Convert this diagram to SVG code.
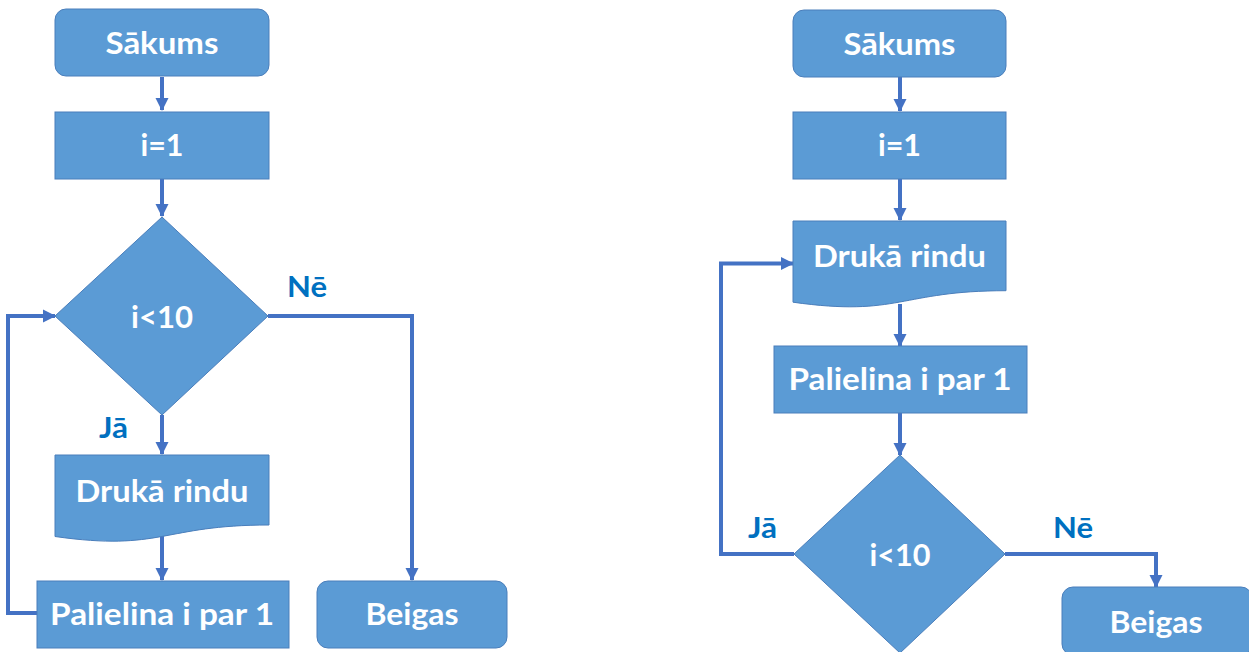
<svg xmlns="http://www.w3.org/2000/svg" width="1249" height="652" viewBox="0 0 1249 652">
<style>
.n{fill:#5B9BD5;stroke:#4A7EBB;stroke-width:1}
.t{font-family:Lato,"Open Sans","Liberation Sans",sans-serif;font-weight:bold;font-size:30px;fill:#FFFFFF;text-anchor:middle}
.l{font-family:Lato,"Open Sans","Liberation Sans",sans-serif;font-weight:bold;font-size:28px;fill:#0070C0}
.c{fill:none;stroke:#4472C4;stroke-width:4}
</style>
<defs>
<marker id="a" markerUnits="userSpaceOnUse" markerWidth="14" markerHeight="14" refX="12" refY="7" orient="auto">
<path d="M0,0.5 L13,7 L0,13.5 Z" fill="#4472C4"/>
</marker>
</defs>
<g id="connectors">
<path class="c" d="M162,77 V110" marker-end="url(#a)"/>
<path class="c" d="M162,179 V216" marker-end="url(#a)"/>
<path class="c" d="M162,415 V454" marker-end="url(#a)"/>
<path class="c" d="M162,536 V580" marker-end="url(#a)"/>
<path class="c" d="M268,316 H412 V580" marker-end="url(#a)"/>
<path class="c" d="M37,613 H8 V316 H55" marker-end="url(#a)"/>
<path class="c" d="M900,77 V111" marker-end="url(#a)"/>
<path class="c" d="M900,179 V220" marker-end="url(#a)"/>
<path class="c" d="M900,304 V346" marker-end="url(#a)"/>
<path class="c" d="M900,413 V455" marker-end="url(#a)"/>
<path class="c" d="M1005,554 H1156 V587" marker-end="url(#a)"/>
<path class="c" d="M794,554 H721 V263.5 H793" marker-end="url(#a)"/>
</g>
<g id="l-start"><rect class="n" x="55" y="9" width="214" height="67" rx="11"/><text class="t" x="162" y="54" textLength="113" lengthAdjust="spacingAndGlyphs">Sākums</text></g>
<g id="l-init"><rect class="n" x="55" y="112" width="214" height="67"/><text class="t" x="162" y="156" textLength="43" lengthAdjust="spacingAndGlyphs">i=1</text></g>
<g id="l-cond"><path class="n" d="M162,217 L268,316 L162,415 L55,316 Z"/><text class="t" x="162" y="328" textLength="62" lengthAdjust="spacingAndGlyphs">i&lt;10</text></g>
<g id="l-print"><path class="n" d="M55,455 H269 V525 C162,525 162,551.7 55,536.5 Z"/><text class="t" x="162" y="502" textLength="173" lengthAdjust="spacingAndGlyphs">Drukā rindu</text></g>
<g id="l-inc"><rect class="n" x="37" y="581" width="252" height="67"/><text class="t" x="162" y="625" textLength="224" lengthAdjust="spacingAndGlyphs">Palielina i par 1</text></g>
<g id="l-end"><rect class="n" x="317" y="581" width="190" height="67" rx="11"/><text class="t" x="412" y="625" textLength="93" lengthAdjust="spacingAndGlyphs">Beigas</text></g>
<text class="l" x="287" y="297" textLength="40" lengthAdjust="spacingAndGlyphs">Nē</text>
<text class="l" x="99" y="438" textLength="29" lengthAdjust="spacingAndGlyphs">Jā</text>
<g id="r-start"><rect class="n" x="793" y="10" width="213" height="67" rx="11"/><text class="t" x="899.5" y="55" textLength="112" lengthAdjust="spacingAndGlyphs">Sākums</text></g>
<g id="r-init"><rect class="n" x="793" y="112" width="213" height="67"/><text class="t" x="899.5" y="156" textLength="43" lengthAdjust="spacingAndGlyphs">i=1</text></g>
<g id="r-print"><path class="n" d="M793,221 H1006 V290.7 C899.5,290.7 899.5,317.2 793,302.2 Z"/><text class="t" x="899.5" y="267" textLength="173" lengthAdjust="spacingAndGlyphs">Drukā rindu</text></g>
<g id="r-inc"><rect class="n" x="774" y="346" width="253" height="67"/><text class="t" x="900" y="390" textLength="223" lengthAdjust="spacingAndGlyphs">Palielina i par 1</text></g>
<g id="r-cond"><path class="n" d="M900,455 L1005,554 L900,653 L794,554 Z"/><text class="t" x="900" y="566" textLength="61" lengthAdjust="spacingAndGlyphs">i&lt;10</text></g>
<g id="r-end"><rect class="n" x="1062" y="587" width="190" height="68" rx="11"/><text class="t" x="1156" y="633" textLength="93" lengthAdjust="spacingAndGlyphs">Beigas</text></g>
<text class="l" x="748" y="538" textLength="29" lengthAdjust="spacingAndGlyphs">Jā</text>
<text class="l" x="1053" y="538" textLength="40" lengthAdjust="spacingAndGlyphs">Nē</text>
</svg>
